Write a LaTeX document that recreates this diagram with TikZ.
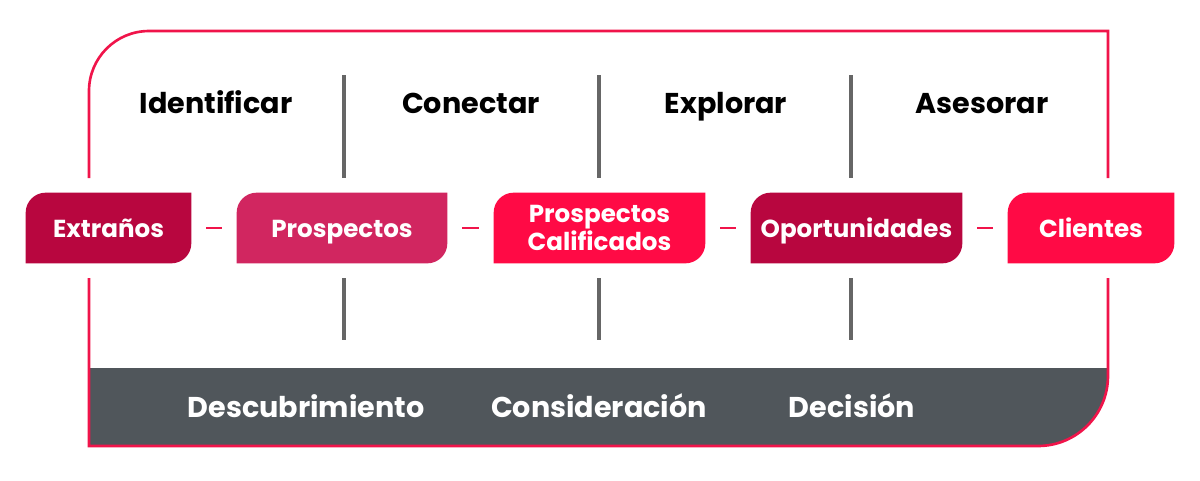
\documentclass[tikz,border=0pt]{standalone}
\usepackage{fontspec}
\setmainfont{Poppins}
\definecolor{wine}{HTML}{B8063F}
\definecolor{rose}{HTML}{D12660}
\definecolor{hot}{HTML}{FF0A45}
\definecolor{slate}{HTML}{50565B}
\definecolor{frame}{HTML}{F0144A}
\tikzset{
  stage/.style={minimum height=1.4cm,inner sep=0pt,text=white,align=center,
    font=\bfseries\fontsize{14}{15}\selectfont},
  label/.style={text=white,inner sep=0pt,text height=1.5ex,text depth=0.3ex,yshift=-0.08cm,
    font=\bfseries\fontsize{14}{15}\selectfont},
  phase/.style={text height=1.6ex,text depth=0.4ex,yshift=-0.1cm,
    font=\bfseries\fontsize{16.3}{18}\selectfont},
  funnel/.style={text=white,text height=1.6ex,text depth=0.4ex,yshift=-0.11cm,
    font=\bfseries\fontsize{16.3}{17}\selectfont},
  divider/.style={draw=gray!80!black,line width=1.8pt},
  link/.style={draw=frame,line width=1.5pt,shorten <=0.3cm,shorten >=0.3cm},
}
% stage box: rounded top left and bottom right
\newcommand{\stagefill}[2]{%
  \fill[#2] (#1.south west) -- ([yshift=-0.4cm]#1.north west) arc (180:90:0.4cm)
    -- (#1.north east) -- ([yshift=0.4cm]#1.south east) arc (0:-90:0.4cm) -- cycle;}
\begin{document}
\begin{tikzpicture}[x=0.02cm,y=-0.02cm]
\useasboundingbox (0,0) rectangle (1200,480);
% bottom band
\fill[slate] (89,368) -- (1108,368) -- (1108,376) arc (0:-90:1.4cm) -- (89,446) -- cycle;
% frame
\draw[frame,line width=1.5pt] (89,178) -- (89,91) arc (180:90:1.2cm) -- (1108,31) -- (1108,178);
\draw[frame,line width=1.5pt] (89,278) -- (89,446) -- (1038,446) arc (270:360:1.4cm) -- (1108,278);
% dividers
\foreach \x in {344,599,851} {
  \draw[divider] (\x,75) -- (\x,178);
  \draw[divider] (\x,278) -- (\x,340);
}
% phases
\node[phase] (identificar) at (216,103) {Identificar};
\node[phase] (conectar) at (471,103) {Conectar};
\node[phase] (explorar) at (726,103) {Explorar};
\node[phase] (asesorar) at (982,103) {Asesorar};
% stages
\node[stage,minimum width=3.3cm] (extranos) at (108.5,228) {};
\node[stage,minimum width=4.2cm] (prospectos) at (342,228) {};
\node[stage,minimum width=4.22cm] (calificados) at (599.5,228) {};
\node[stage,minimum width=4.22cm] (oportunidades) at (856.5,228) {};
\node[stage,minimum width=3.32cm] (clientes) at (1091,228) {};
\stagefill{extranos}{wine}
\stagefill{prospectos}{rose}
\stagefill{calificados}{hot}
\stagefill{oportunidades}{wine}
\stagefill{clientes}{hot}
\node[label] at (extranos) {Extraños};
\node[label] at (prospectos) {Prospectos};
\node[stage,font=\bfseries\fontsize{14}{14}\selectfont] at (calificados) {Prospectos\\Calificados};
\node[label] at (oportunidades) {Oportunidades};
\node[label] at (clientes) {Clientes};
% links
\draw[link] (extranos) -- (prospectos);
\draw[link] (prospectos) -- (calificados);
\draw[link] (calificados) -- (oportunidades);
\draw[link] (oportunidades) -- (clientes);
% funnel stages
\node[funnel] (descubrimiento) at (306,406) {Descubrimiento};
\node[funnel] (consideracion) at (599,406) {Consideración};
\node[funnel] (decision) at (852,406) {Decisión};
\end{tikzpicture}
\end{document}
